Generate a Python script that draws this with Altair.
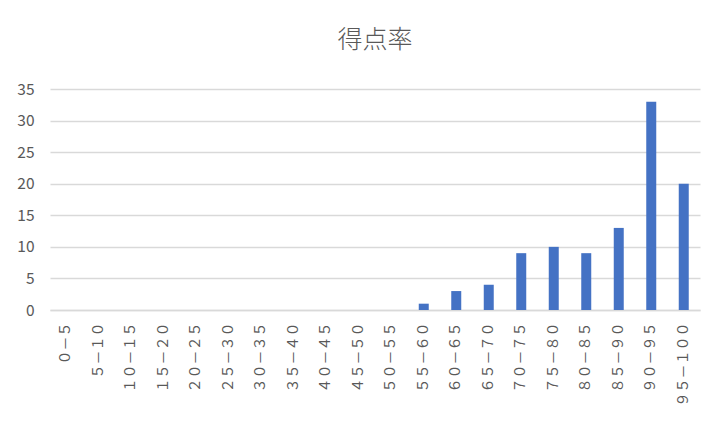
import altair as alt
import pandas as pd

categories = ["０－５", "５－１０", "１０－１５", "１５－２０", "２０－２５", "２５－３０",
              "３０－３５", "３５－４０", "４０－４５", "４５－５０", "５０－５５", "５５－６０",
              "６０－６５", "６５－７０", "７０－７５", "７５－８０", "８０－８５", "８５－９０",
              "９０－９５", "９５－１００"]
counts = [0, 0, 0, 0, 0, 0, 0, 0, 0, 0, 0, 1, 3, 4, 9, 10, 9, 13, 33, 20]
y_ticks = [0, 5, 10, 15, 20, 25, 30, 35]

df = pd.DataFrame({"cat": categories, "n": counts})

FONT = "Noto Sans CJK JP"
GRAY = "#595959"
GRID = "#d9d9d9"

chart = alt.Chart(df).mark_bar(size=10, color="#4472C4").encode(
    x=alt.X("cat:N", sort=categories,
            scale=alt.Scale(paddingInner=0, paddingOuter=0),
            axis=alt.Axis(title=None, labelAngle=-90, labelFont=FONT, labelFontSize=14,
                          labelFontWeight="normal",
                          labelColor=GRAY, ticks=False, domainColor=GRID, domainWidth=1.5,
                          labelPadding=12, labelOverlap=False)),
    y=alt.Y("n:Q", scale=alt.Scale(domain=[0, 35], nice=False),
            axis=alt.Axis(title=None, values=y_ticks, labelFont=FONT, labelFontSize=15.5,
                          labelFontWeight="normal",
                          labelColor=GRAY, ticks=False, domain=False, gridColor=GRID,
                          gridWidth=1.5, labelPadding=16)),
).properties(
    width=650, height=221,
    title=alt.TitleParams("得点率", font=FONT, fontSize=25, fontWeight=300,
                          color=GRAY, anchor="middle", offset=29),
    autosize=alt.AutoSizeParams(type="none"),
    padding={"left": 42, "top": 81, "right": 14, "bottom": 118},
).configure_view(stroke=None)

chart.save("out.html", embed_options={"renderer": "svg", "actions": False})
